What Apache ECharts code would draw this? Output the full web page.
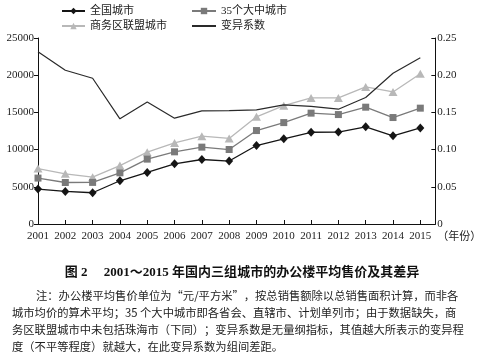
<!DOCTYPE html>
<html>
<head>
<meta charset="utf-8">
<script src="https://cdn.jsdelivr.net/npm/echarts@6/dist/echarts.min.js"></script>
<style>html,body{margin:0;padding:0;background:#fff;}#c{width:484px;height:361px;}</style>
</head>
<body>
<div id="c"></div>
<script>
var years = [2001,2002,2003,2004,2005,2006,2007,2008,2009,2010,2011,2012,2013,2014,2015];
var national = [4700,4380,4200,5810,6930,8090,8670,8460,10550,11450,12330,12350,13060,11850,12920];
var big35 = [6170,5580,5590,6880,8720,9700,10330,10010,12560,13630,14900,14710,15700,14310,15570];
var cbd = [7450,6750,6300,7850,9650,10900,11800,11500,14400,15900,16950,16950,18420,17750,20200];
var cv = [0.2316,0.2067,0.1959,0.1414,0.1640,0.1422,0.1520,0.1524,0.1534,0.1600,0.1580,0.1543,0.1700,0.2026,0.2234];
var leftTicks = [0,5000,10000,15000,20000,25000];
var rightTicks = [0,0.05,0.10,0.15,0.20,0.25];
var seriesNames = ['全国城市','35个大中城市','商务区联盟城市','变异系数'];
var titleText = '图 2\u3000 2001～2015 年国内三组城市的办公楼平均售价及其差异';
var noteLines = [
  '注：办公楼平均售价单位为“元/平方米”，按总销售额除以总销售面积计算，而非各',
  '城市均价的算术平均；35 个大中城市即各省会、直辖市、计划单列市；由于数据缺失，商',
  '务区联盟城市中未包括珠海市（下同）；变异系数是无量纲指标，其值越大所表示的变异程',
  '度（不平等程度）就越大，在此变异系数为组间差距。'
];

function pairs(arr){ return years.map(function(y,i){ return [y, arr[i]]; }); }
var serif = "'Liberation Serif','Noto Sans CJK SC'";
var cjk = "'Liberation Serif','Noto Sans CJK SC'";
var cjkOnly = "'Noto Sans CJK SC'";
var chart = echarts.init(document.getElementById('c'), null, {renderer:'canvas'});
var axisCol = '#111';
var graphics = [{
  type:'text', left:'center', top:266,
  style:{text:titleText, font:"bold 13px " + cjk, fill:'#111'}
}];
noteLines.forEach(function(t,i){
  graphics.push({type:'text', left: i===0 ? 36 : 12, top: 290 + i*17,
    style:{text:t, font:"11.3px " + cjkOnly, fill:'#222'}});
});
var legendText = {fontSize:11, fontFamily:cjk, color:'#222', lineHeight:14};
chart.setOption({
  animation:false,
  backgroundColor:'#fff',
  grid:{left:38, right:43, top:38, bottom:137, containLabel:false},
  legend:[{
    orient:'vertical', left:61, top:4, padding:0, itemWidth:23, itemHeight:8, itemGap:1,
    data:[seriesNames[0], seriesNames[2]], textStyle:legendText
  },{
    orient:'vertical', left:191, top:4, padding:0, itemWidth:24, itemHeight:8, itemGap:1,
    data:[seriesNames[1], seriesNames[3]], textStyle:legendText
  }],
  xAxis:{
    type:'value', min:years[0], max:2015.55, interval:1,
    name:'（年份）', nameLocation:'end', nameGap:-8,
    nameTextStyle:{fontSize:11, fontFamily:cjk, color:'#222', align:'left', verticalAlign:'top', padding:[8,0,0,0]},
    axisLine:{show:true, lineStyle:{color:axisCol, width:1}},
    axisTick:{show:true, inside:true, length:4, lineStyle:{color:axisCol}},
    axisLabel:{fontSize:11, fontFamily:serif, color:'#222', margin:7,
      formatter:function(v){ return Number.isInteger(v) ? String(v) : ''; }},
    splitLine:{show:false}
  },
  yAxis:[{
    type:'value', min:leftTicks[0], max:leftTicks[leftTicks.length-1], interval:leftTicks[1]-leftTicks[0],
    axisLine:{show:true, lineStyle:{color:axisCol, width:1}},
    axisTick:{show:true, inside:false, length:4, lineStyle:{color:axisCol}},
    axisLabel:{fontSize:11, fontFamily:serif, color:'#222', margin:4,
      formatter:function(v){ return String(v); }},
    splitLine:{show:false}
  },{
    type:'value', position:'right', min:rightTicks[0], max:rightTicks[rightTicks.length-1], interval:0.05,
    axisLine:{show:true, lineStyle:{color:axisCol, width:1}},
    axisTick:{show:true, inside:true, length:4, lineStyle:{color:axisCol}},
    axisLabel:{fontSize:11, fontFamily:serif, color:'#222', margin:2,
      formatter:function(v){ return v===0 ? '0' : v.toFixed(2); }},
    splitLine:{show:false}
  }],
  series:[{
    name:seriesNames[0], type:'line', data:pairs(national), symbol:'diamond', symbolSize:[8,9],
    itemStyle:{color:'#151515'}, lineStyle:{color:'#151515', width:1.3}, z:4
  },{
    name:seriesNames[1], type:'line', data:pairs(big35), symbol:'rect', symbolSize:7,
    itemStyle:{color:'#7a7a7a'}, lineStyle:{color:'#7a7a7a', width:1.3}, z:3
  },{
    name:seriesNames[2], type:'line', data:pairs(cbd), symbol:'triangle', symbolSize:[9,8],
    itemStyle:{color:'#b8b8b8'}, lineStyle:{color:'#b8b8b8', width:1.3}, z:2
  },{
    name:seriesNames[3], type:'line', yAxisIndex:1, data:pairs(cv), symbol:'none',
    itemStyle:{color:'#2a2a2a', opacity:0}, lineStyle:{color:'#2a2a2a', width:1.2, opacity:1}, z:5
  }],
  graphic:graphics
});
</script>
</body>
</html>
